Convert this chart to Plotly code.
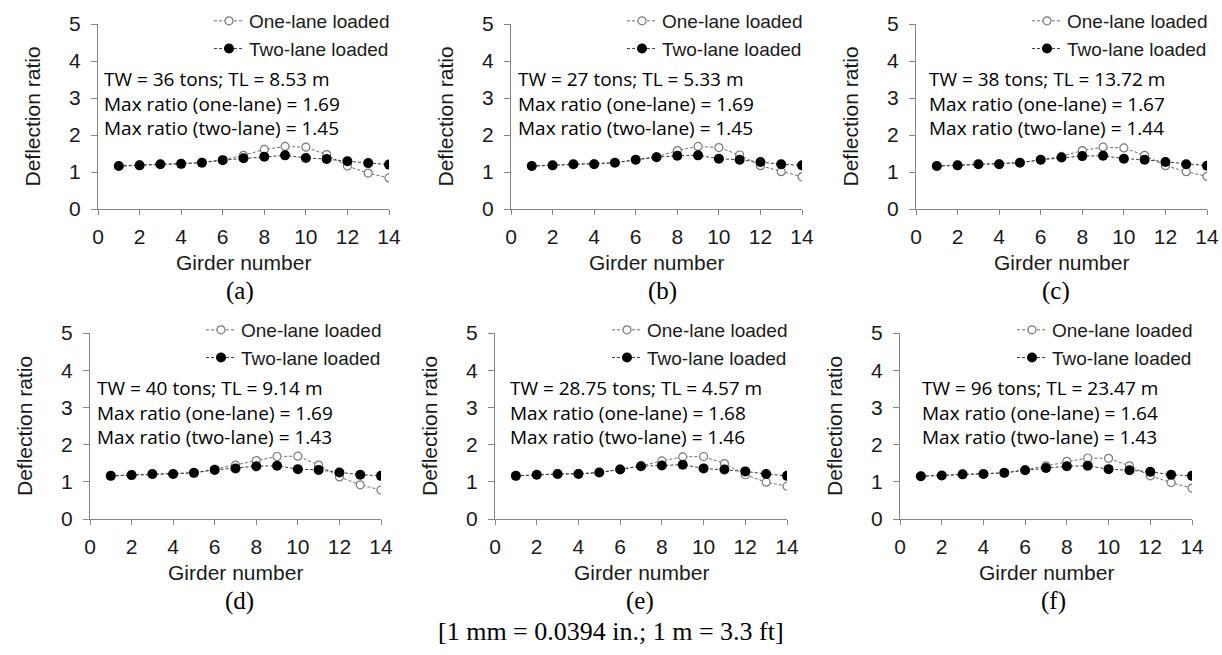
import plotly.graph_objects as go

# ---------------- data ----------------
girders = list(range(1, 15))

one_a = [1.16, 1.19, 1.21, 1.22, 1.26, 1.33, 1.45, 1.61, 1.69, 1.67, 1.47, 1.16, 0.97, 0.84]
two_a = [1.16, 1.18, 1.21, 1.22, 1.25, 1.32, 1.37, 1.41, 1.45, 1.38, 1.35, 1.29, 1.24, 1.20]
one_b = [1.16, 1.18, 1.21, 1.22, 1.25, 1.33, 1.41, 1.58, 1.69, 1.66, 1.46, 1.17, 1.01, 0.87]
two_b = [1.16, 1.18, 1.21, 1.21, 1.25, 1.33, 1.40, 1.44, 1.45, 1.36, 1.33, 1.27, 1.21, 1.18]
one_c = [1.16, 1.18, 1.21, 1.22, 1.25, 1.33, 1.42, 1.58, 1.67, 1.65, 1.45, 1.17, 1.01, 0.88]
two_c = [1.16, 1.18, 1.21, 1.21, 1.25, 1.33, 1.39, 1.43, 1.44, 1.36, 1.33, 1.27, 1.21, 1.17]
one_d = [1.16, 1.18, 1.21, 1.21, 1.24, 1.34, 1.45, 1.57, 1.68, 1.69, 1.45, 1.13, 0.92, 0.78]
two_d = [1.16, 1.18, 1.21, 1.21, 1.24, 1.32, 1.36, 1.42, 1.43, 1.34, 1.32, 1.25, 1.19, 1.16]
one_e = [1.16, 1.19, 1.21, 1.22, 1.25, 1.34, 1.43, 1.56, 1.67, 1.68, 1.49, 1.19, 0.99, 0.88]
two_e = [1.16, 1.19, 1.21, 1.21, 1.25, 1.33, 1.42, 1.44, 1.46, 1.36, 1.33, 1.28, 1.21, 1.16]
one_f = [1.15, 1.17, 1.20, 1.21, 1.24, 1.32, 1.43, 1.55, 1.64, 1.63, 1.43, 1.16, 0.98, 0.83]
two_f = [1.15, 1.17, 1.20, 1.21, 1.24, 1.31, 1.37, 1.42, 1.43, 1.34, 1.31, 1.27, 1.19, 1.16]

panel_labels = ["(a)", "(b)", "(c)", "(d)", "(e)", "(f)"]
truck_info = [
    "TW = 36 tons; TL = 8.53 m",
    "TW = 27 tons; TL = 5.33 m",
    "TW = 38 tons; TL = 13.72 m",
    "TW = 40 tons; TL = 9.14 m",
    "TW = 28.75 tons; TL = 4.57 m",
    "TW = 96 tons; TL = 23.47 m",
]
max_one = ["1.69", "1.69", "1.67", "1.69", "1.68", "1.64"]
max_two = ["1.45", "1.45", "1.44", "1.43", "1.46", "1.43"]
series_names = ["One-lane loaded", "Two-lane loaded"]
x_title = "Girder number"
y_title = "Deflection ratio"
footer = "[1 mm = 0.0394 in.; 1 m = 3.3 ft]"

one_series = [one_a, one_b, one_c, one_d, one_e, one_f]
two_series = [two_a, two_b, two_c, two_d, two_e, two_f]

# ---------------- layout (pixels) ----------------
W, H = 1222, 655
# plot area boxes: x0, x1, top, bottom
boxes = [
    (98, 389, 24, 209),
    (511, 802, 24, 209),
    (916, 1207, 24, 209),
    (90, 381, 333, 519),
    (495, 787, 333, 519),
    (900, 1192, 333, 519),
]
info_left = [102, 516, 927, 95, 508, 920]
label_pos = [(240, 291), (663, 291), (1056, 291), (240, 601), (640, 601), (1053, 601)]


def fx(px):
    return px / W


def fy(py):
    return 1 - py / H


AX_COL = "#868686"
TXT_COL = "#1a1a1a"
SANS = "Liberation Sans, Arial, sans-serif"
SERIF = "Liberation Serif, Times New Roman, serif"
INFO = "Open Sans, Noto Sans, sans-serif"

fig = go.Figure()
layout = dict(
    template="none",
    width=W, height=H,
    margin=dict(l=0, r=0, t=0, b=0, pad=0),
    paper_bgcolor="white", plot_bgcolor="white",
    showlegend=True,
    annotations=[],
)

for i in range(6):
    n = "" if i == 0 else str(i + 1)
    xa, ya = "x" + n, "y" + n
    leg = "legend" + n
    x0, x1, top, bot = boxes[i]

    fig.add_trace(go.Scatter(
        x=girders, y=one_series[i], name=series_names[0], mode="lines+markers",
        xaxis=xa, yaxis=ya, legend=leg,
        line=dict(color="#6e6e6e", width=1, dash="3px,2px"),
        marker=dict(symbol="circle", size=8, color="white",
                    line=dict(color="#7a7a7a", width=1.2)),
    ))
    fig.add_trace(go.Scatter(
        x=girders, y=two_series[i], name=series_names[1], mode="lines+markers",
        xaxis=xa, yaxis=ya, legend=leg,
        line=dict(color="#3a3a3a", width=1, dash="3px,2px"),
        marker=dict(symbol="circle", size=10, color="black",
                    line=dict(color="black", width=0)),
    ))

    layout["xaxis" + n] = dict(
        domain=[fx(x0), fx(x1)], anchor=ya, range=[0, 14], dtick=2, tick0=0,
        showline=True, linecolor=AX_COL, linewidth=1, ticks="outside",
        ticklen=5, tickcolor=AX_COL, showgrid=False, zeroline=False,
        tickfont=dict(family=SANS, size=21, color=TXT_COL),
        ticklabelstandoff=4, fixedrange=True, automargin=False,
    )
    layout["yaxis" + n] = dict(
        domain=[fy(bot), fy(top)], anchor=xa, range=[0, 5], dtick=1, tick0=0,
        showline=True, linecolor=AX_COL, linewidth=1, ticks="outside",
        ticklen=6, tickcolor=AX_COL, showgrid=False, zeroline=False,
        tickfont=dict(family=SANS, size=21, color=TXT_COL),
        ticklabelstandoff=6, fixedrange=True, automargin=False,
    )
    layout[leg] = dict(
        x=fx(x1 + 6), y=fy(top - 22), xanchor="right", yanchor="top",
        bgcolor="rgba(0,0,0,0)", borderwidth=0, itemwidth=30,
        font=dict(family=SANS, size=19, color=TXT_COL),
        tracegroupgap=0,
    )

    ann = layout["annotations"]
    ann.append(dict(
        x=fx(info_left[i]), y=fy(top + 79), xref="paper", yref="paper",
        xanchor="left", yanchor="middle", align="left", showarrow=False,
        text=truck_info[i] + "<br>Max ratio (one-lane) = " + max_one[i]
        + "<br>Max ratio (two-lane) = " + max_two[i],
        font=dict(family=INFO, size=19, color="black"),
    ))
    ann.append(dict(
        x=fx(x0 - 66), y=fy((top + bot) / 2), xref="paper", yref="paper",
        xanchor="center", yanchor="middle", textangle=-90, showarrow=False,
        text=y_title, font=dict(family=SANS, size=21, color=TXT_COL),
    ))
    ann.append(dict(
        x=fx((x0 + x1) / 2), y=fy(bot + 53), xref="paper", yref="paper",
        xanchor="center", yanchor="middle", showarrow=False,
        text=x_title, font=dict(family=SANS, size=21, color=TXT_COL),
    ))
    lx, ly = label_pos[i]
    ann.append(dict(
        x=fx(lx), y=fy(ly), xref="paper", yref="paper",
        xanchor="center", yanchor="middle", showarrow=False,
        text=panel_labels[i], font=dict(family=SERIF, size=25, color="black"),
    ))

layout["annotations"].append(dict(
    x=fx(611), y=fy(631), xref="paper", yref="paper",
    xanchor="center", yanchor="middle", showarrow=False,
    text=footer, font=dict(family=SERIF, size=26, color="black"),
))

fig.update_layout(**layout)
fig.write_html(
    "out.html",
    config=dict(displayModeBar=False),
    post_script="document.body.style.margin='0';document.body.style.overflow='hidden';",
)
